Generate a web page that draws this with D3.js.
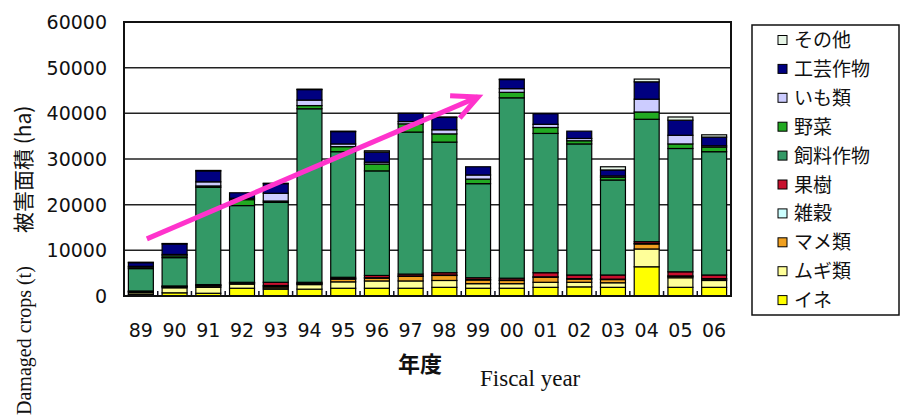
<!DOCTYPE html>
<html>
<head>
<meta charset="utf-8">
<script src="https://cdn.jsdelivr.net/npm/d3@7"></script>
<style>
  body { margin: 0; background: #fff; }
  text { fill: #111; }
</style>
</head>
<body>
<svg width="902" height="417"></svg>
<script>
// fiscal years (1989 - 2006)
var years = ['89', '90', '91', '92', '93', '94', '95', '96', '97', '98', '99', '00', '01', '02', '03', '04', '05', '06'];

// damaged area per crop group
var ine     = [300, 700, 600, 1700, 1500, 1500, 1700, 1700, 1700, 1900, 1700, 1700, 1900, 2000, 1900, 6400, 1900, 1900];
var mugi    = [400, 1100, 1300, 900, 300, 1000, 1400, 1600, 1600, 1500, 1000, 1000, 1100, 1000, 1000, 3900, 2100, 1500];
var mame    = [200, 200, 300, 200, 300, 200, 600, 600, 1000, 1100, 800, 700, 1100, 700, 700, 1100, 300, 300];
var zakkoku = [100, 100, 100, 100, 200, 100, 100, 100, 100, 100, 100, 100, 100, 100, 100, 100, 100, 100];
var kaju    = [100, 100, 200, 100, 700, 200, 300, 500, 400, 500, 400, 400, 900, 800, 900, 400, 900, 800];
var shiryo  = [4900, 6200, 21300, 16800, 17500, 38000, 27500, 22900, 31100, 28600, 20600, 39500, 30500, 28700, 20800, 26800, 27000, 27000];
var yasai   = [300, 400, 300, 1300, 300, 700, 1100, 1500, 1800, 1800, 1000, 1200, 1300, 700, 600, 1600, 1000, 1000];
var imo     = [200, 300, 900, 300, 1700, 1200, 600, 400, 500, 900, 900, 800, 700, 500, 300, 2800, 1900, 300];
var kogei   = [800, 2300, 2400, 1200, 2100, 2300, 2700, 2200, 1800, 2700, 1800, 2000, 2300, 1600, 1300, 3800, 3300, 1900];
var sonota  = [100, 100, 100, 0, 100, 100, 100, 300, 0, 100, 0, 100, 0, 0, 700, 600, 700, 500];

// stacking order, bottom to top
var keys = ['イネ', 'ムギ類', 'マメ類', '雑穀', '果樹', '飼料作物', '野菜', 'いも類', '工芸作物', 'その他'];
var seriesValues = [ine, mugi, mame, zakkoku, kaju, shiryo, yasai, imo, kogei, sonota];
var colors = ['#ffff00', '#ffff99', '#f0a020', '#ccffff', '#c8102e', '#339966', '#22aa22', '#ccccff', '#000080', '#e6f5e6'];

var yTicks = [0, 10000, 20000, 30000, 40000, 50000, 60000];

var svg = d3.select('svg');

var plot = { l: 124, r: 731, t: 22, b: 296 };

var table = years.map(function (y, i) {
    var row = { year: y };
    keys.forEach(function (k, j) { row[k] = seriesValues[j][i]; });
    return row;
});

var xScale = d3.scaleBand().domain(years).range([plot.l, plot.r])
    .paddingInner(0.26).paddingOuter(0.13);
var yScale = d3.scaleLinear().domain([0, 60000]).range([plot.b, plot.t]);

// plot background and grid
svg.append('rect')
    .attr('x', plot.l).attr('y', plot.t)
    .attr('width', plot.r - plot.l).attr('height', plot.b - plot.t)
    .attr('fill', '#fff');

svg.append('g').selectAll('line')
    .data(yTicks)
    .enter().append('line')
    .attr('x1', plot.l).attr('x2', plot.r)
    .attr('y1', d => yScale(d)).attr('y2', d => yScale(d))
    .attr('stroke', '#222').attr('stroke-width', 1.5);

// y tick labels
svg.append('g').selectAll('text')
    .data(yTicks)
    .enter().append('text')
    .attr('x', 107)
    .attr('y', d => yScale(d) + 7)
    .attr('text-anchor', 'end')
    .style('font-family', 'DejaVu Sans')
    .style('font-size', '19px')
    .text(d => d);

// stacked bars
var stacked = d3.stack().keys(keys)(table);

svg.append('g').selectAll('g')
    .data(stacked)
    .enter().append('g')
    .attr('fill', (d, i) => colors[i])
    .selectAll('rect')
    .data(d => d)
    .enter().append('rect')
    .attr('x', d => xScale(d.data.year))
    .attr('y', d => yScale(d[1]))
    .attr('width', xScale.bandwidth())
    .attr('height', d => yScale(d[0]) - yScale(d[1]))
    .attr('stroke', '#000')
    .attr('stroke-width', 1.2);

// small ticks between categories
var step = xScale.step();
svg.append('g').selectAll('line')
    .data(years.slice(1))
    .enter().append('line')
    .attr('x1', d => xScale(d) - (step - xScale.bandwidth()) / 2)
    .attr('x2', d => xScale(d) - (step - xScale.bandwidth()) / 2)
    .attr('y1', plot.b).attr('y2', plot.b - 5)
    .attr('stroke', '#112').attr('stroke-width', 1.5);

// plot frame
svg.append('rect')
    .attr('x', plot.l).attr('y', plot.t)
    .attr('width', plot.r - plot.l).attr('height', plot.b - plot.t)
    .attr('fill', 'none').attr('stroke', '#111').attr('stroke-width', 2);

// x tick labels
svg.append('g').selectAll('text')
    .data(years)
    .enter().append('text')
    .attr('x', d => xScale(d) + xScale.bandwidth() / 2)
    .attr('y', 337)
    .attr('text-anchor', 'middle')
    .style('font-family', 'DejaVu Sans')
    .style('font-size', '19px')
    .text(d => d);

// axis titles
svg.append('text')
    .attr('x', 420).attr('y', 372)
    .attr('text-anchor', 'middle')
    .style('font-family', 'Noto Sans CJK JP')
    .style('font-size', '22px')
    .style('font-weight', 'bold')
    .text('年度');

svg.append('text')
    .attr('x', 480).attr('y', 386)
    .style('font-family', 'Liberation Serif')
    .style('font-size', '23px')
    .text('Fiscal year');

svg.append('text')
    .attr('transform', 'translate(31, 415) rotate(-90)')
    .style('font-family', 'Liberation Serif')
    .style('font-size', '20px')
    .text('Damaged crops (t)');

svg.append('text')
    .attr('transform', 'translate(31, 233) rotate(-90)')
    .style('font-family', 'Noto Sans CJK JP')
    .style('font-size', '21px')
    .text('被害面積 (ha)');

// pink trend arrow, placed in data units
var x0 = xScale('89') + xScale.bandwidth() / 2 + 6, y0 = yScale(12500);
var x1 = xScale('99') + xScale.bandwidth() / 2, y1 = yScale(43600);
var ang = Math.atan2(y1 - y0, x1 - x0);
var headLen = 28, spread = 0.45;

svg.append('line')
    .attr('x1', x0).attr('y1', y0).attr('x2', x1).attr('y2', y1)
    .attr('stroke', '#ff33cc').attr('stroke-width', 5);

svg.append('path')
    .attr('d', 'M' + (x1 - headLen * Math.cos(ang - spread)) + ',' + (y1 - headLen * Math.sin(ang - spread)) +
        'L' + x1 + ',' + y1 +
        'L' + (x1 - headLen * Math.cos(ang + spread)) + ',' + (y1 - headLen * Math.sin(ang + spread)))
    .attr('fill', 'none')
    .attr('stroke', '#ff33cc').attr('stroke-width', 5)
    .attr('stroke-linejoin', 'miter');

// legend (top item first)
var legend = svg.append('g');
legend.append('rect')
    .attr('x', 752).attr('y', 25).attr('width', 147).attr('height', 290)
    .attr('fill', '#fff').attr('stroke', '#111').attr('stroke-width', 1.5);

var legendKeys = keys.slice().reverse();
var legendItems = legend.selectAll('g.item')
    .data(legendKeys)
    .enter().append('g')
    .attr('class', 'item')
    .attr('transform', (d, i) => 'translate(778,' + (40 + i * 28.9) + ')');

legendItems.append('rect')
    .attr('x', 0).attr('y', -4.5).attr('width', 9).attr('height', 9)
    .attr('fill', d => colors[keys.indexOf(d)])
    .attr('stroke', '#000').attr('stroke-width', 1);

legendItems.append('text')
    .attr('x', 16).attr('y', 7)
    .style('font-family', 'Noto Sans CJK JP')
    .style('font-size', '19px')
    .text(d => d);
</script>
</body>
</html>
